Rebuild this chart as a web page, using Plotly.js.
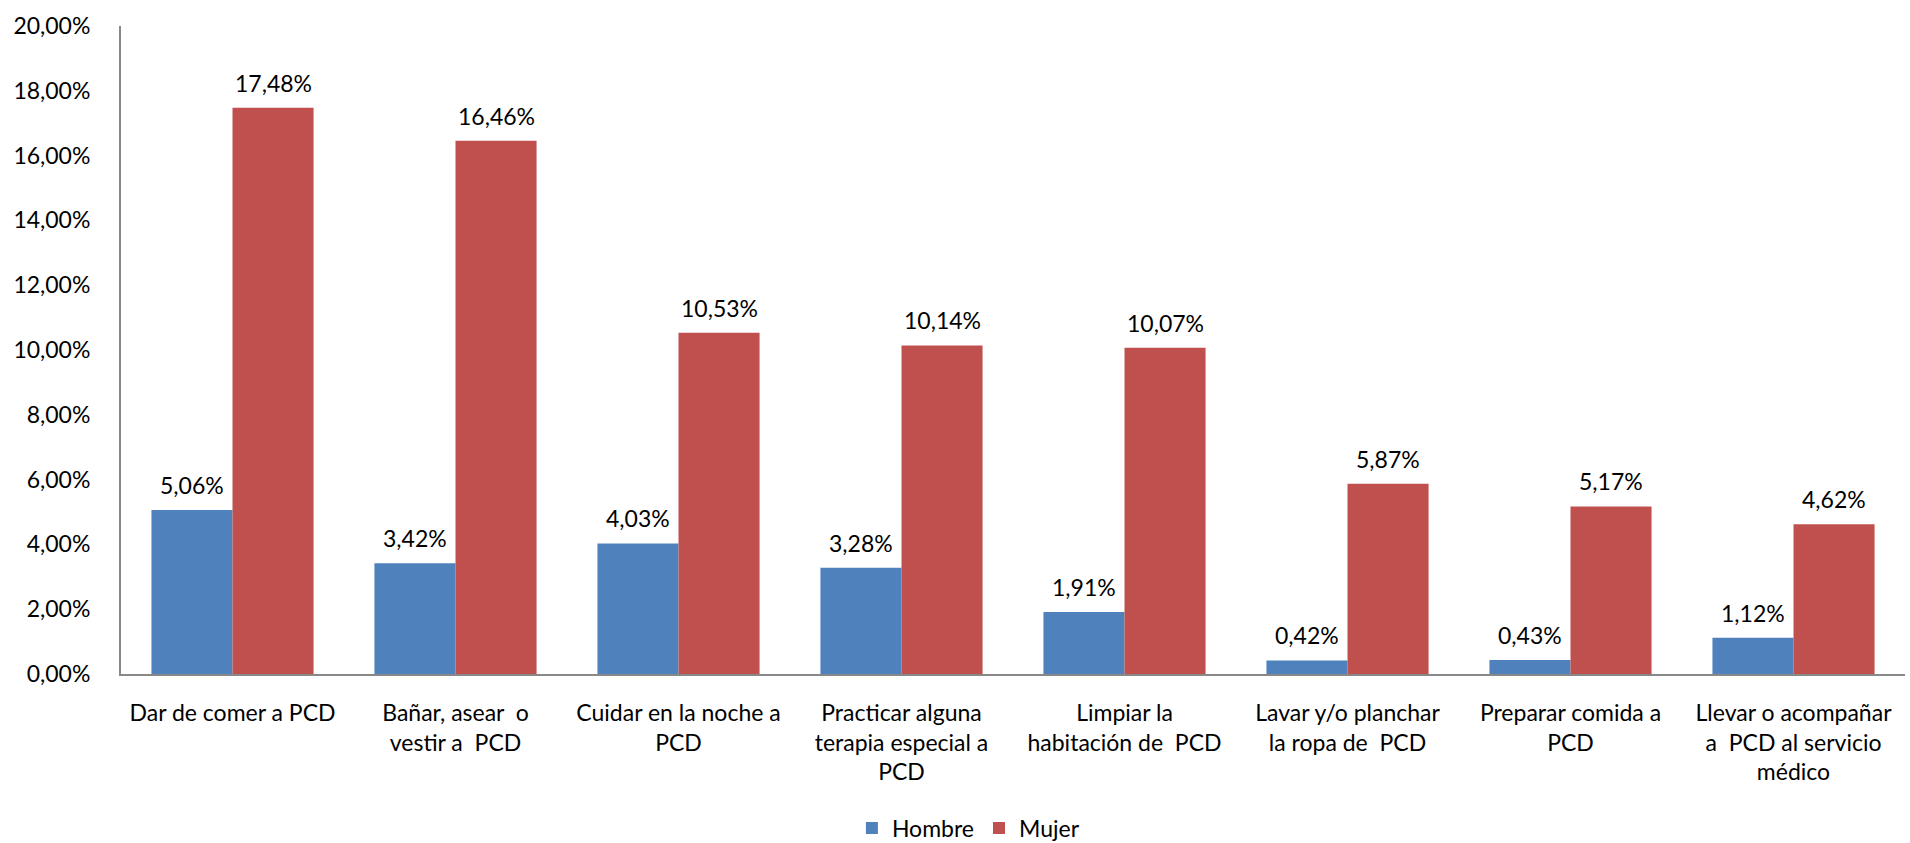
<!DOCTYPE html>
<html>
<head>
<meta charset="utf-8">
<script src="https://cdn.plot.ly/plotly-3.0.1.min.js"></script>
<style>html,body{margin:0;padding:0;background:#fff;}#chart{width:1910px;height:843px;}</style>
</head>
<body>
<div id="chart"></div>
<script>
const categories = [
  "Dar de comer a PCD",
  "Bañar, asear  o<br>vestir a  PCD",
  "Cuidar en la noche a<br>PCD",
  "Practicar alguna<br>terapia especial a<br>PCD",
  "Limpiar la<br>habitación de  PCD",
  "Lavar y/o planchar<br>la ropa de  PCD",
  "Preparar comida a<br>PCD",
  "Llevar o acompañar<br>a  PCD al servicio<br>médico"
];
const hombre = [5.06, 3.42, 4.03, 3.28, 1.91, 0.42, 0.43, 1.12];
const mujer = [17.48, 16.46, 10.53, 10.14, 10.07, 5.87, 5.17, 4.62];
const yTicks = [0, 2, 4, 6, 8, 10, 12, 14, 16, 18, 20];

const W = 1910, H = 843;
const M = {l: 121, r: 5, t: 26, b: 169, autoexpand: false};
const bargap = 0.273;
const plotW = W - M.l - M.r;
const barPx = plotW / categories.length * (1 - bargap) / 2;
const fmt = v => v.toFixed(2).replace('.', ',') + '%';
const FONT = 'Lato, "Open Sans", sans-serif';
const FS = 23;

const annotations = [];
categories.forEach((c, i) => {
  annotations.push({x: c, y: hombre[i], text: fmt(hombre[i]), showarrow: false,
    xshift: -barPx / 2, yanchor: 'bottom', yshift: 9, font: {family: FONT, size: FS, color: '#000'}});
  annotations.push({x: c, y: mujer[i], text: fmt(mujer[i]), showarrow: false,
    xshift: barPx / 2, yanchor: 'bottom', yshift: 9, font: {family: FONT, size: FS, color: '#000'}});
});

const data = [
  {type: 'bar', name: 'Hombre', x: categories, y: hombre, marker: {color: '#4F81BD'}, hoverinfo: 'none'},
  {type: 'bar', name: 'Mujer', x: categories, y: mujer, marker: {color: '#C0504D'}, hoverinfo: 'none'}
];

const layout = {
  width: W, height: H,
  margin: M,
  paper_bgcolor: '#fff', plot_bgcolor: '#fff',
  separators: ',.',
  barmode: 'group',
  bargap: bargap,
  bargroupgap: 0,
  font: {family: FONT, size: FS, color: '#000'},
  xaxis: {
    type: 'category', automargin: false,
    showline: true, linecolor: '#888', linewidth: 2,
    showgrid: false, ticks: '', ticklabelstandoff: 17,
    tickfont: {family: FONT, size: FS, color: '#000'},
    tickangle: 0
  },
  yaxis: {
    range: [0, 20], automargin: false,
    tickvals: yTicks,
    ticktext: yTicks.map(v => v.toFixed(2).replace('.', ',') + '%'),
    showline: true, linecolor: '#888', linewidth: 2,
    showgrid: false, zeroline: false, ticks: '',
    ticklabelstandoff: 24,
    tickfont: {family: FONT, size: FS, color: '#000'}
  },
  showlegend: true,
  legend: {
    orientation: 'h', x: 0.475, xanchor: 'center', y: -0.271, yanchor: 'bottom',
    font: {family: FONT, size: FS, color: '#000'}, traceorder: 'normal'
  },
  annotations: annotations
};

Plotly.newPlot('chart', data, layout, {displayModeBar: false, staticPlot: true});
</script>
</body>
</html>
